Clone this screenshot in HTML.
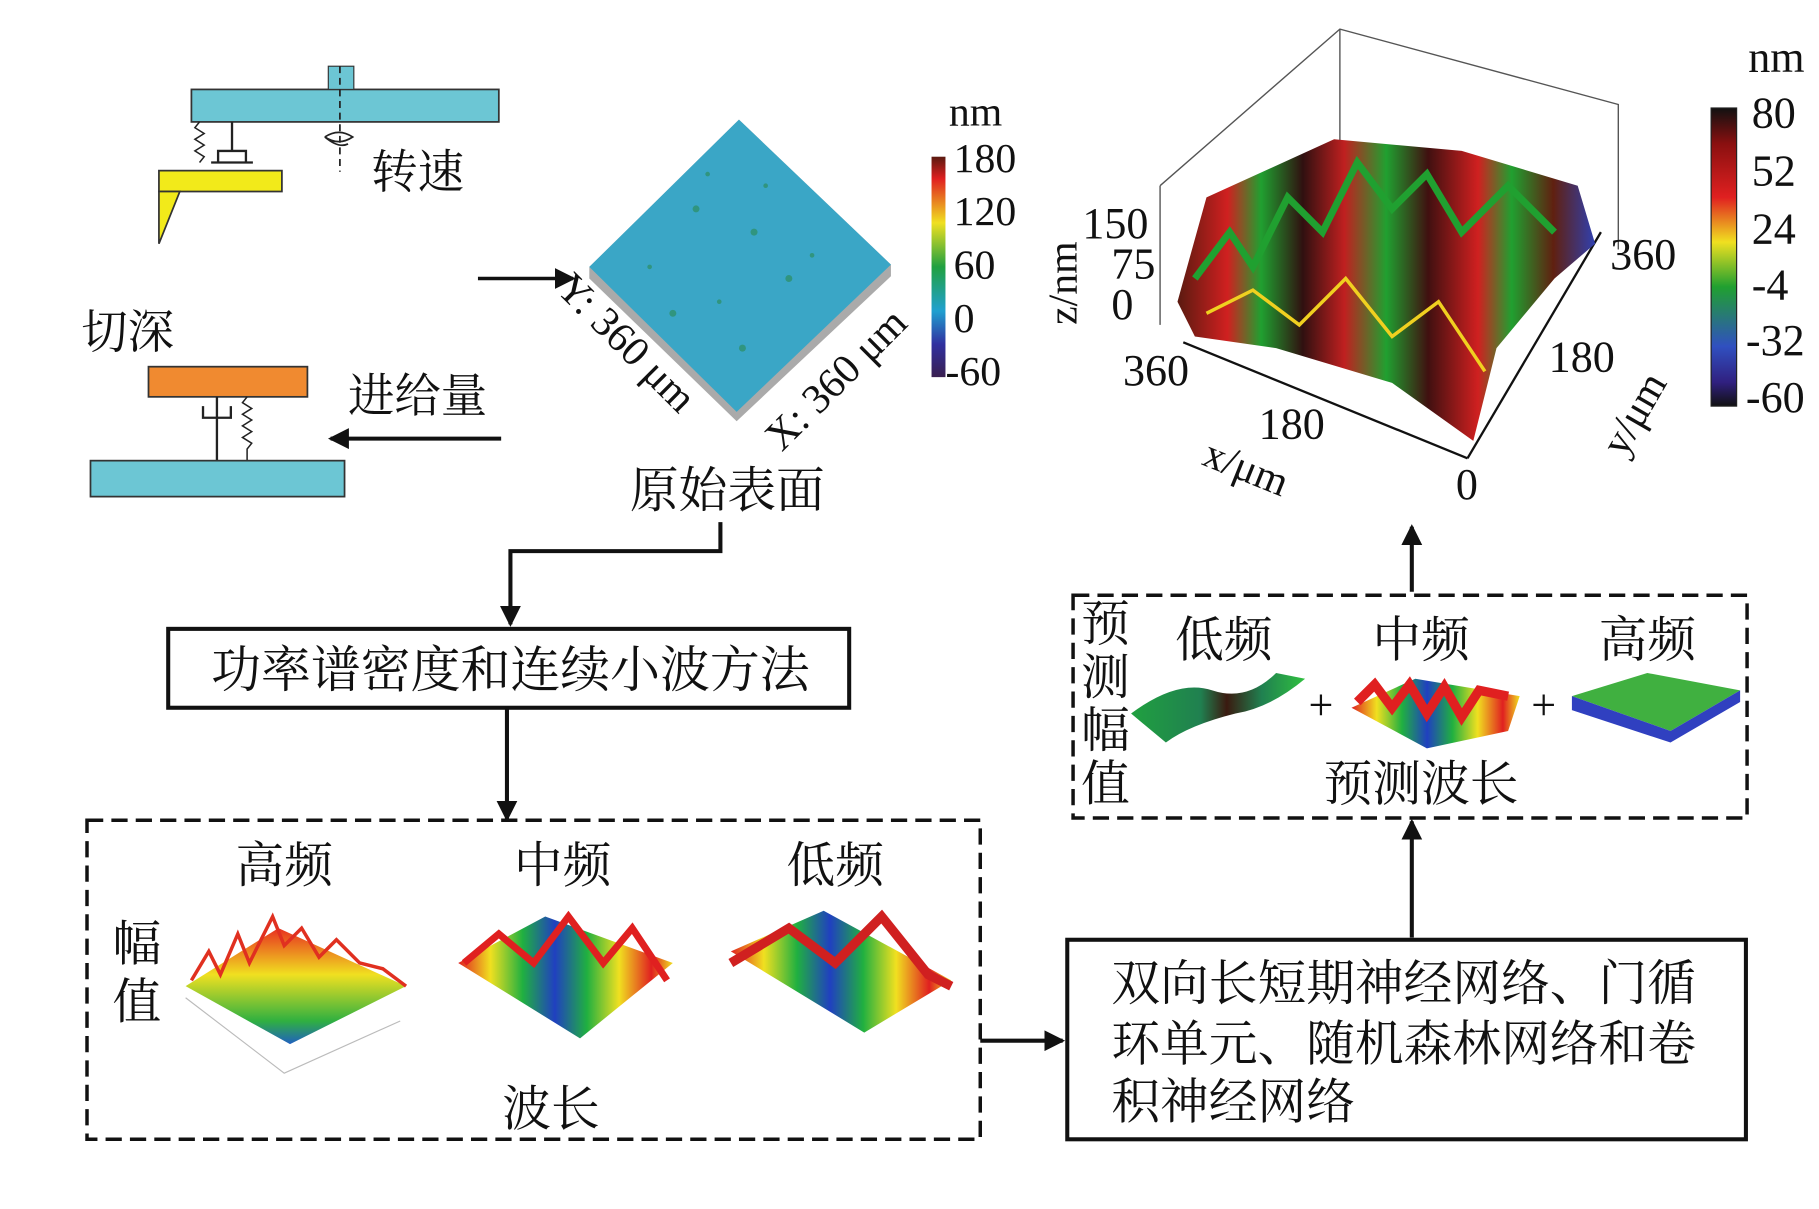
<!DOCTYPE html>
<html><head><meta charset="utf-8"><style>
html,body{margin:0;padding:0;background:#fff;}
svg{display:block;}
text{font-family:"Liberation Serif","Noto Serif CJK SC",serif;fill:#111;}
.cj{font-family:"Liberation Serif","Noto Serif CJK SC","Noto Sans CJK SC",serif;}
</style></head><body>
<svg width="1819" height="1209" viewBox="0 0 1568 1042" xmlns="http://www.w3.org/2000/svg">
<defs>
<marker id="ah" markerWidth="18" markerHeight="18" refX="14" refY="8" orient="auto" markerUnits="userSpaceOnUse" viewBox="0 0 16 16"><path d="M0,0 L16,8 L0,16 z" fill="#111"/></marker>
<linearGradient id="cb1" x1="0" y1="0" x2="0" y2="1"><stop offset="0" stop-color="#5a1a10"/><stop offset="0.1" stop-color="#e02020"/><stop offset="0.3" stop-color="#f0e020"/><stop offset="0.5" stop-color="#20a040"/><stop offset="0.7" stop-color="#20a0d0"/><stop offset="0.85" stop-color="#3030a0"/><stop offset="1" stop-color="#3a2050"/></linearGradient>
<linearGradient id="cb2" x1="0" y1="0" x2="0" y2="1"><stop offset="0" stop-color="#111"/><stop offset="0.12" stop-color="#8a1010"/><stop offset="0.3" stop-color="#e02020"/><stop offset="0.45" stop-color="#f0e020"/><stop offset="0.6" stop-color="#20a030"/><stop offset="0.8" stop-color="#3050c0"/><stop offset="0.92" stop-color="#302080"/><stop offset="1" stop-color="#111"/></linearGradient>
<linearGradient id="rain" x1="0" y1="0" x2="1" y2="0"><stop offset="0" stop-color="#e02020"/><stop offset="0.15" stop-color="#f0e020"/><stop offset="0.3" stop-color="#20b040"/><stop offset="0.45" stop-color="#2040c0"/><stop offset="0.6" stop-color="#20b040"/><stop offset="0.75" stop-color="#f0e020"/><stop offset="0.9" stop-color="#e02020"/><stop offset="1" stop-color="#f0e020"/></linearGradient>
<linearGradient id="hf" x1="0" y1="0" x2="0" y2="1"><stop offset="0" stop-color="#e83020"/><stop offset="0.4" stop-color="#f0e020"/><stop offset="0.8" stop-color="#30b040"/><stop offset="1" stop-color="#2060c0"/></linearGradient>
<linearGradient id="lowg" x1="0" y1="0" x2="1" y2="0"><stop offset="0" stop-color="#20a040"/><stop offset="0.4" stop-color="#208050"/><stop offset="0.55" stop-color="#3a1a10"/><stop offset="0.75" stop-color="#208050"/><stop offset="1" stop-color="#30c040"/></linearGradient>
<linearGradient id="big" x1="0" y1="0" x2="1" y2="0"><stop offset="0" stop-color="#5a1a10"/><stop offset="0.12" stop-color="#d02020"/><stop offset="0.2" stop-color="#20a030"/><stop offset="0.3" stop-color="#301010"/><stop offset="0.4" stop-color="#c02020"/><stop offset="0.5" stop-color="#20a030"/><stop offset="0.6" stop-color="#401010"/><stop offset="0.72" stop-color="#d02020"/><stop offset="0.8" stop-color="#20a030"/><stop offset="0.9" stop-color="#602010"/><stop offset="1" stop-color="#3040b0"/></linearGradient>
</defs>

<rect x="165" y="77" width="265" height="28" fill="#6cc6d4" stroke="#333" stroke-width="1.5"/>
<rect x="283" y="57" width="22" height="20" fill="#6cc6d4" stroke="#333" stroke-width="1"/>
<line x1="293" y1="57" x2="293" y2="148" stroke="#222" stroke-width="1.5" stroke-dasharray="6,4"/>
<path d="M280,118 q12,-8 24,0 q-12,8 -24,0 q12,10 20,6" fill="none" stroke="#222" stroke-width="1.5"/>
<line x1="200" y1="105" x2="200" y2="130" stroke="#222" stroke-width="2"/>
<path d="M188,140 v-10 h24 v10" fill="none" stroke="#222" stroke-width="2"/>
<line x1="182" y1="140" x2="218" y2="140" stroke="#222" stroke-width="2"/>
<path d="M172,105 l-4,5 l8,5 l-8,5 l8,5 l-8,5 l8,5 l-4,5" fill="none" stroke="#222" stroke-width="1.3"/>
<rect x="137" y="147" width="106" height="18" fill="#f2ea1a" stroke="#333" stroke-width="1.5"/>
<path d="M137,165 h18 l-18,45 z" fill="#f2ea1a" stroke="#333" stroke-width="1.5"/>
<text x="320" y="162" font-size="40" class="cj">转速</text>

<text x="70" y="300" font-size="40" class="cj">切深</text>
<rect x="128" y="316" width="137" height="26" fill="#f08a30" stroke="#333" stroke-width="1.5"/>
<line x1="187" y1="342" x2="187" y2="397" stroke="#222" stroke-width="2"/>
<path d="M175,350 v10 h24 v-10" fill="none" stroke="#222" stroke-width="2"/>
<path d="M213,342 l-4,5 l8,5 l-8,5 l8,5 l-8,5 l8,5 l-8,5 l8,5 l-4,5 l0,10" fill="none" stroke="#222" stroke-width="1.3"/>
<rect x="78" y="397" width="219" height="31" fill="#6cc6d4" stroke="#333" stroke-width="1.5"/>
<text x="300" y="355" font-size="40" class="cj">进给量</text>
<line x1="432" y1="378" x2="285" y2="378" stroke="#111" stroke-width="3.5" marker-end="url(#ah)"/>
<line x1="412" y1="240" x2="494" y2="240" stroke="#111" stroke-width="3" marker-end="url(#ah)"/>

<polygon points="637,103 768,228 768,238 635,363 508,240 508,230" fill="#aaa"/>
<polygon points="637,103 768,228 635,355 508,230" fill="#3aa6c6"/>
<g fill="#2a8a50" opacity="0.6">
<circle cx="600" cy="180" r="3"/><circle cx="650" cy="200" r="3"/><circle cx="620" cy="260" r="2"/><circle cx="680" cy="240" r="3"/><circle cx="560" cy="230" r="2"/><circle cx="640" cy="300" r="3"/><circle cx="700" cy="220" r="2"/><circle cx="610" cy="150" r="2"/><circle cx="580" cy="270" r="3"/><circle cx="660" cy="160" r="2"/>
</g>
<text transform="translate(478,250) rotate(45)" font-size="36">Y: 360 μm</text>
<text transform="translate(674,390) rotate(-45)" font-size="36">X: 360 μm</text>
<rect x="803" y="135" width="12" height="190" fill="url(#cb1)"/>
<text x="818" y="108" font-size="36">nm</text>
<g font-size="36"><text x="822" y="148">180</text><text x="822" y="194">120</text><text x="822" y="240">60</text><text x="822" y="286">0</text><text x="815" y="332">-60</text></g>
<text x="543" y="437" font-size="42" class="cj">原始表面</text>

<polyline points="621,450 621,475 440,475 440,538" fill="none" stroke="#111" stroke-width="3.5" marker-end="url(#ah)"/>
<rect x="145" y="542" width="587" height="68" fill="#fff" stroke="#111" stroke-width="3.5"/>
<text x="440" y="592" font-size="43" text-anchor="middle" class="cj">功率谱密度和连续小波方法</text>
<line x1="437" y1="610" x2="437" y2="706" stroke="#111" stroke-width="3.5" marker-end="url(#ah)"/>

<rect x="75" y="707" width="770" height="275" fill="none" stroke="#111" stroke-width="3" stroke-dasharray="14,7"/>
<g font-size="42" class="cj" text-anchor="middle"><text x="245" y="760">高频</text><text x="485" y="760">中频</text><text x="720" y="760">低频</text><text x="118" y="828">幅</text><text x="118" y="878">值</text><text x="475" y="970">波长</text></g>
<polygon points="160,850 240,800 350,850 250,900" fill="url(#hf)"/>
<polyline points="165,845 180,820 190,840 205,805 215,830 235,790 245,815 260,800 275,825 290,810 310,830 330,835 350,850" fill="none" stroke="#e03020" stroke-width="3"/>
<polyline points="160,860 245,925 345,880" fill="none" stroke="#bbb" stroke-width="1"/>
<polygon points="395,830 470,790 580,830 500,895" fill="url(#rain)"/>
<polyline points="400,830 430,805 460,830 490,790 520,830 545,800 575,845" fill="none" stroke="#e02020" stroke-width="6"/>
<polygon points="630,820 710,785 820,845 745,890" fill="url(#rain)"/>
<polyline points="630,830 680,800 720,830 760,790 800,840 820,850" fill="none" stroke="#d02020" stroke-width="8"/>
<line x1="845" y1="897" x2="916" y2="897" stroke="#111" stroke-width="3.5" marker-end="url(#ah)"/>

<rect x="920" y="810" width="585" height="172" fill="#fff" stroke="#111" stroke-width="3.5"/>
<g font-size="42" class="cj"><text x="958" y="862">双向长短期神经网络、门循</text><text x="958" y="914">环单元、随机森林网络和卷</text><text x="958" y="964">积神经网络</text></g>
<line x1="1217" y1="808" x2="1217" y2="708" stroke="#111" stroke-width="3.5" marker-end="url(#ah)"/>

<rect x="925" y="513" width="581" height="192" fill="none" stroke="#111" stroke-width="3" stroke-dasharray="14,7"/>
<g font-size="42" class="cj" text-anchor="middle"><text x="953" y="552">预</text><text x="953" y="598">测</text><text x="953" y="644">幅</text><text x="953" y="690">值</text><text x="1055" y="566">低频</text><text x="1225" y="566">中频</text><text x="1420" y="566">高频</text><text x="1225" y="690">预测波长</text></g>
<g font-size="38"><text x="1128" y="620">+</text><text x="1320" y="620">+</text></g>
<path d="M975,615 q40,-30 70,-20 q30,10 55,-15 l25,5 q-30,25 -60,30 q-40,10 -60,25 z" fill="url(#lowg)"/>
<polygon points="1165,610 1220,585 1310,600 1300,630 1230,645" fill="url(#rain)"/>
<polyline points="1170,605 1185,590 1200,610 1215,590 1230,615 1245,592 1260,618 1275,595 1300,600" fill="none" stroke="#e02020" stroke-width="8"/>
<polygon points="1355,600 1420,580 1500,595 1440,630" fill="#40b040"/>
<polygon points="1355,600 1440,630 1440,640 1355,612" fill="#3040c0"/>
<polygon points="1440,630 1500,595 1500,605 1440,640" fill="#3040c0"/>
<line x1="1217" y1="510" x2="1217" y2="454" stroke="#111" stroke-width="3.5" marker-end="url(#ah)"/>

<g fill="none" stroke="#555" stroke-width="1.2">
<polyline points="1000,160 1155,25 1395,90 1395,215"/>
<line x1="1000" y1="160" x2="1000" y2="280"/>
<line x1="1155" y1="25" x2="1155" y2="130"/>
</g>
<g stroke="#111" stroke-width="2" fill="none">
<line x1="1020" y1="295" x2="1265" y2="395"/>
<line x1="1265" y1="395" x2="1380" y2="200"/>
</g>
<polygon points="1015,260 1040,170 1150,120 1260,130 1360,160 1375,210 1340,240 1290,300 1270,380 1200,330 1100,300 1030,290" fill="url(#big)"/>
<polyline points="1030,240 1060,200 1080,230 1110,170 1140,200 1170,140 1200,180 1230,150 1260,200 1300,160 1340,200" fill="none" stroke="#20a030" stroke-width="6"/>
<polyline points="1040,270 1080,250 1120,280 1160,240 1200,290 1240,260 1280,320" fill="none" stroke="#f0d020" stroke-width="3"/>
<rect x="1475" y="93" width="22" height="257" fill="url(#cb2)" stroke="#222"/>
<g font-size="38"><text x="1507" y="62">nm</text><text x="1510" y="110">80</text><text x="1510" y="160">52</text><text x="1510" y="210">24</text><text x="1510" y="258">-4</text><text x="1505" y="306">-32</text><text x="1505" y="355">-60</text>
<text x="933" y="205">150</text><text x="958" y="240">75</text><text x="958" y="275">0</text>
<text x="968" y="332">360</text><text x="1085" y="378">180</text><text x="1255" y="430">0</text>
<text x="1388" y="232">360</text><text x="1335" y="320">180</text></g>
<text transform="translate(928,280) rotate(-90)" font-size="36">z/nm</text>
<text transform="translate(1035,400) rotate(22)" font-size="36">x/μm</text>
<text transform="translate(1400,395) rotate(-60)" font-size="36">y/μm</text>
</svg>
</body></html>
